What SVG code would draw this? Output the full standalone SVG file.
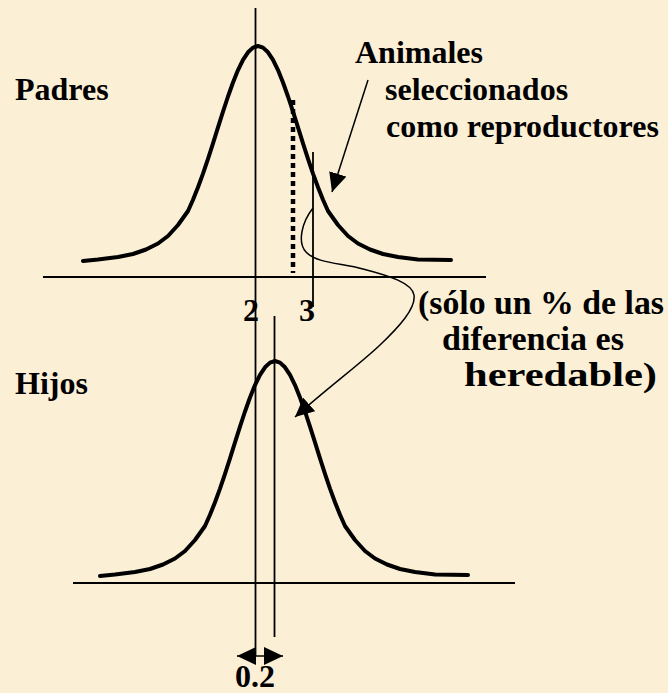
<svg xmlns="http://www.w3.org/2000/svg" width="668" height="693" viewBox="0 0 668 693">
  <style>
    text { font-family: 'Liberation Serif', 'Times New Roman', serif; font-weight: 700; font-size: 32px; fill: #000; }
    .wide { font-size: 34px; }
    .bell { fill: none; stroke: #000; stroke-width: 4; stroke-linejoin: round; stroke-linecap: round; }
    .thin { fill: none; stroke: #000; stroke-width: 1.8; }
    .conn { fill: none; stroke: #000; stroke-width: 1.5; }
  </style>
  <defs>
    <marker id="ah" markerUnits="userSpaceOnUse" markerWidth="22" markerHeight="20" refX="19" refY="9" orient="auto-start-reverse">
      <path d="M0,0 L19,9 L0,18 z" fill="#000"/>
    </marker>
    <path id="bellcurve" d="M83,261 L98,259.5 L118,257 L133,254 L146,249.5 L158,243.5 L168,236 L178,225 L188,211 L193,199.8 L198,187.3 L203,173.6 L208,158.8 L213,143.3 L218,127.4 L223,111.7 L228,96.5 L233,82.5 L238,70.1 L243,59.9 L248,52.3 L253,47.6 L258,46 L263,47.6 L268,52.3 L273,59.9 L278,70.1 L283,82.5 L288,96.5 L293,111.7 L298,127.4 L303,143.3 L308,158.8 L313,173.6 L318,187.3 L323,199.8 L328,211 L338,225 L348,236 L358,243.5 L370,249.5 L383,254 L398,257 L418,259.5 L451,260"/>
  </defs>
  <rect x="0" y="0" width="668" height="693" fill="#FBEFD6"/>

  <g id="padres">
    <line class="thin" x1="43" y1="277" x2="486" y2="277"/>
    <use href="#bellcurve" class="bell"/>
    <line x1="293" y1="100" x2="293" y2="273" stroke="#000" stroke-width="4.5" stroke-dasharray="5 4"/>
    <line class="thin" x1="313" y1="152" x2="313" y2="307"/>
    <text x="15" y="100">Padres</text>
    <text x="243" y="321">2</text>
    <text x="299" y="321">3</text>
  </g>

  <g id="hijos">
    <line class="thin" x1="73" y1="583" x2="515" y2="583"/>
    <use href="#bellcurve" class="bell" transform="translate(17,315)"/>
    <line class="thin" x1="274.5" y1="316" x2="274.5" y2="637"/>
    <text x="15" y="394">Hijos</text>
    <text x="235" y="687">0.2</text>
  </g>

  <g id="axis-mean">
    <line class="thin" x1="255.5" y1="8" x2="255.5" y2="656"/>
  </g>

  <g id="label-seleccionados">
    <text x="355" y="63">Animales</text>
    <text x="385" y="100">seleccionados</text>
    <text x="386" y="137">como reproductores</text>
  </g>

  <g id="label-heredable">
    <text class="wide" x="418" y="314" textLength="246" lengthAdjust="spacingAndGlyphs">(sólo un % de las</text>
    <text class="wide" x="442" y="350" textLength="182" lengthAdjust="spacingAndGlyphs">diferencia es</text>
    <text class="wide" x="464" y="386" textLength="193" lengthAdjust="spacingAndGlyphs">heredable)</text>
  </g>

  <g id="connectors">
    <path class="conn" d="M368,80 L332,192" marker-end="url(#ah)"/>
    <path class="conn" d="M313,208 C302,222 297,242 306,252 C316,263 340,263 363,269 C390,276 412,283 414,295 C416,308 400,326 380,345 C360,364 330,386 295,417" marker-end="url(#ah)"/>
    <path class="conn" d="M237,656 L283,656" marker-start="url(#ah)" marker-end="url(#ah)"/>
  </g>
</svg>
